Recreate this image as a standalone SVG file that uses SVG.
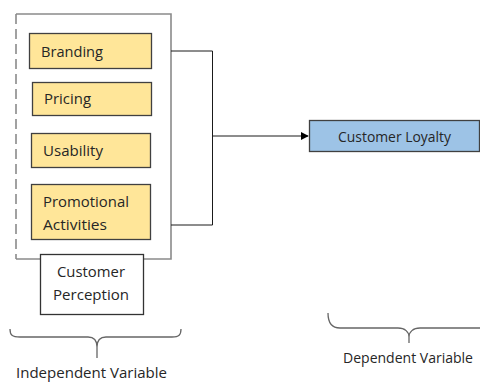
<svg xmlns="http://www.w3.org/2000/svg" width="480" height="383" viewBox="0 0 480 383">
<style>
text{font-family:"Open Sans","Noto Sans","Liberation Sans",sans-serif;font-size:15px;fill:#262626}
.box{fill:#FFE699;stroke:#404040;stroke-width:1.3}
.cont{fill:none;stroke:#8a8a8a;stroke-width:1.6}
.conn{fill:none;stroke:#1a1a1a;stroke-width:1}
.brace{fill:none;stroke:#666;stroke-width:1.3}
</style>
<defs>
<marker id="arr" viewBox="0 0 10 10" refX="9" refY="5" markerWidth="8" markerHeight="8" markerUnits="userSpaceOnUse" orient="auto">
<path d="M0,0 L10,5 L0,10 z" fill="#000"/>
</marker>
</defs>
<g id="container">
<path class="cont" d="M16,14 H171 V259 H143 M40,259 H16"/>
<line class="cont" x1="16" y1="14" x2="16" y2="259" stroke-dasharray="10,5"/>
</g>
<g id="branding"><rect class="box" x="29.5" y="33.5" width="122" height="35"/><text x="41" y="56.5" textLength="62" lengthAdjust="spacingAndGlyphs">Branding</text></g>
<g id="pricing"><rect class="box" x="32.5" y="82.5" width="119" height="33"/><text x="44" y="104" textLength="47" lengthAdjust="spacingAndGlyphs">Pricing</text></g>
<g id="usability"><rect class="box" x="31.5" y="133.5" width="119" height="34"/><text x="43" y="155.5" textLength="60" lengthAdjust="spacingAndGlyphs">Usability</text></g>
<g id="promotional"><rect class="box" x="31.5" y="184.5" width="119" height="55"/><text x="43" y="207" textLength="86" lengthAdjust="spacingAndGlyphs">Promotional</text><text x="43" y="230" textLength="64" lengthAdjust="spacingAndGlyphs">Activities</text></g>
<g id="perception"><rect x="40.5" y="254.5" width="103" height="60" fill="#fff" stroke="#333" stroke-width="1.3"/><text x="57" y="277" textLength="68" lengthAdjust="spacingAndGlyphs">Customer</text><text x="53" y="300" textLength="76" lengthAdjust="spacingAndGlyphs">Perception</text></g>
<g id="loyalty"><rect x="309.5" y="120.5" width="170" height="31" fill="#9DC3E6" stroke="#404040" stroke-width="1.3"/><text x="338" y="142" textLength="113" lengthAdjust="spacingAndGlyphs">Customer Loyalty</text></g>
<g id="connectors">
<path class="conn" d="M171,51 H212.5 V225 H171"/>
<path class="conn" d="M212.5,136 H308" marker-end="url(#arr)"/>
</g>
<g id="independent">
<path class="brace" d="M10,329 C10,335 12,337 20,337 H88 C94,337 97,340 97,347 V358 M97,347 C97,340 100,337 106,337 H172 C179,337 181,335 181,329"/>
<text x="16" y="378" textLength="151" lengthAdjust="spacingAndGlyphs">Independent Variable</text>
</g>
<g id="dependent">
<path class="brace" d="M328,313 C328,322 331,328 340,328 H398 C405,328 409,332 409,337 V343 M409,337 C409,332 413,328 420,328 H481"/>
<text x="343" y="363" textLength="130" lengthAdjust="spacingAndGlyphs" style="font-size:14px">Dependent Variable</text>
</g>
</svg>
